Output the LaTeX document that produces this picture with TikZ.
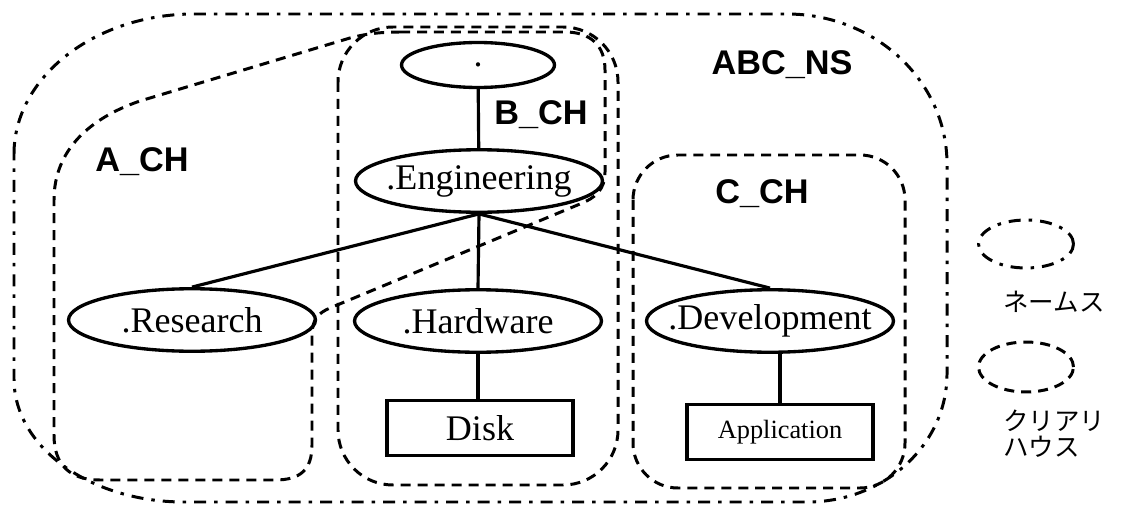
\documentclass[tikz,border=0pt]{standalone}
\usepackage{fontspec}
\setmainfont{Liberation Serif}
\setsansfont{Liberation Sans}
\newfontfamily\jpfont{Noto Sans CJK JP}
\usetikzlibrary{shapes.geometric}

\begin{document}
\begin{tikzpicture}[x=0.02cm, y=-0.02cm,
    dombox/.style={draw, ellipse, line width=1.9pt, inner xsep=-5mm, inner ysep=0pt,
                   minimum width=4.94cm, minimum height=1.25cm,
                   font=\fontsize{20.5}{24}\selectfont},
    leafbox/.style={draw, rectangle, line width=1.9pt, minimum width=3.72cm,
                 minimum height=1.1cm},
    tagname/.style={font=\fontsize{19.5}{22}\selectfont\sffamily\bfseries},
    link/.style={line width=1.8pt},
    chline/.style={line width=1.7pt, dash pattern=on 0.2cm off 0.14cm},
    nsline/.style={line width=1.7pt, dash pattern=on 0.24cm off 0.16cm on 0.07cm off 0.16cm},
    legtext/.style={font=\fontsize{14.5}{14.7}\selectfont\jpfont, align=left, inner sep=0pt}]
  \useasboundingbox (0,0) rectangle (1125,510);

  % Name space ABC_NS
  \draw[nsline] (14,154) .. controls (14,77) and (95,14) .. (194,14) -- (787,14)
    .. controls (875,14) and (947,81) .. (947,164) -- (947,374)
    .. controls (947,445) and (884,502) .. (807,502) -- (184,502)
    .. controls (90,502) and (14,447) .. (14,379) -- cycle;

  % Clearinghouse B_CH
  \draw[chline, rounded corners=1.1cm] (338,27) rectangle (618,485);
  % Clearinghouse C_CH
  \draw[chline, rounded corners=0.9cm] (633,155) rectangle (905,488);
  % Clearinghouse A_CH
  \draw[chline] (400,32) -- (565,32) .. controls (590,32) and (605,45) .. (605,70)
    -- (605,172) .. controls (605,190) and (595,198) .. (580,204)
    -- (330,308) .. controls (318,313) and (312,320) .. (312,335)
    -- (312,445) .. controls (312,470) and (300,480) .. (275,480)
    -- (100,480) .. controls (70,480) and (54,465) .. (54,435)
    -- (54,200) .. controls (54,150) and (90,118) .. (140,101)
    -- (350,38) .. controls (365,34) and (380,32) .. (400,32);

  % Domains
  \node[dombox, minimum width=3.06cm, minimum height=0.9cm] (root) at (478,65) {.};
  \node[dombox] (eng) at (479,181) {.Engineering};
  \node[dombox] (res) at (192,320) {.Research};
  \node[dombox] (hw) at (478,321) {.Hardware};
  \node[dombox] (dev) at (770,321) {.Development};

  % Objects
  \node[leafbox, font=\fontsize{20.5}{24}\selectfont] (disk) at (480,428) {Disk};
  \node[leafbox, font=\fontsize{15}{18}\selectfont] (app) at (780,432) {Application};

  % Tree
  \draw[link] (root) -- (eng);
  \draw[link] (eng.south) -- (res.north);
  \draw[link] (eng.south) -- (hw.north);
  \draw[link] (eng.south) -- (dev.north);
  \draw[link] (hw.south) -- (hw.south |- disk.north);
  \draw[link] (app.north) -- (app.north |- dev.south);

  % Labels
  \node[tagname] (nsname) at (782,65) {ABC\_NS};
  \node[tagname] (aname) at (142,162) {A\_CH};
  \node[tagname] (bname) at (541,115) {B\_CH};
  \node[tagname] (cname) at (762,194) {C\_CH};

  % Legend
  \node[draw, ellipse, nsline, minimum width=1.9cm, minimum height=0.96cm] (nskey) at (1026,244) {};
  \node[legtext, anchor=west] (nstext) at (1003,302) {ネームス};
  \node[draw, ellipse, chline, minimum width=1.9cm, minimum height=1cm] (chkey) at (1026,367) {};
  \node[legtext, anchor=north west] (chtext) at (1003,410) {クリアリ\\ハウス};
\end{tikzpicture}
\end{document}
